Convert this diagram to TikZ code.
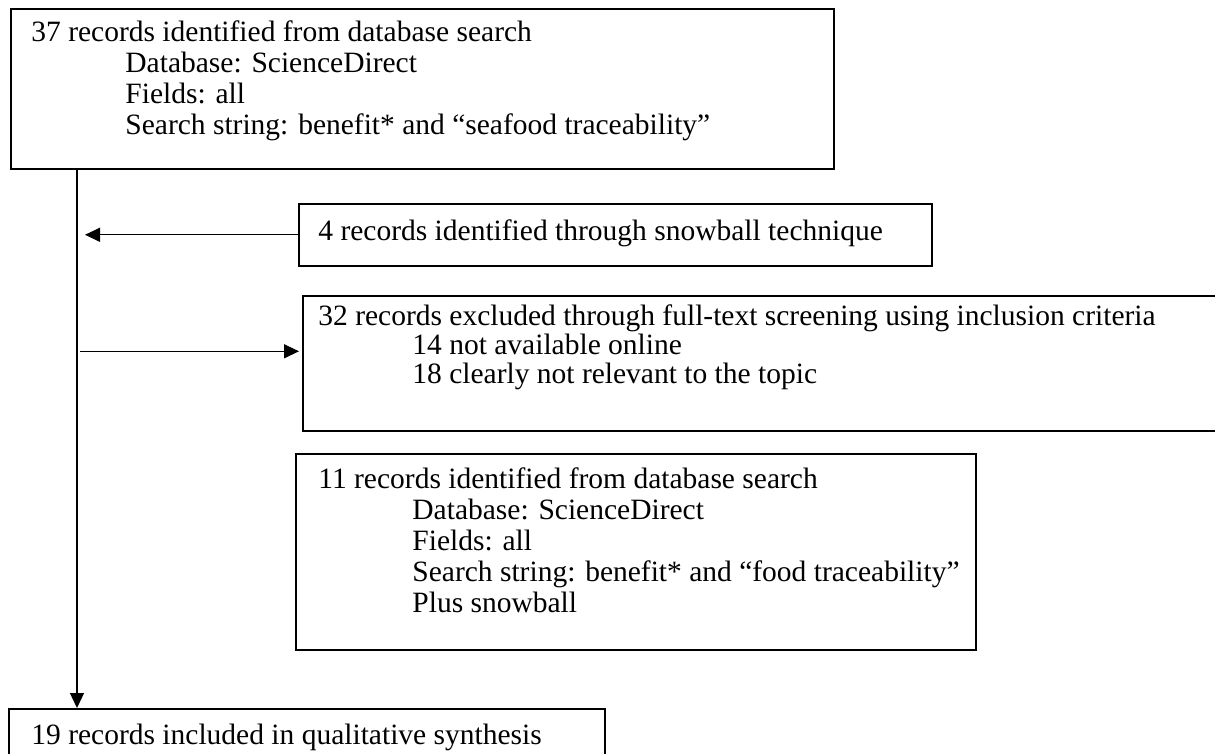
\documentclass[tikz,border=0pt]{standalone}
\usepackage{fontspec}
\setmainfont{Liberation Serif}
\usetikzlibrary{arrows.meta,positioning,calc}

\begin{document}
\begin{tikzpicture}[
  x=0.5pt,y=-0.5pt,
  font=\fontsize{14.75pt}{16pt}\selectfont,
  box/.style={rectangle,draw=black,line width=0.8pt,fill=white,
              anchor=north west,inner sep=0pt},
  txt/.style={anchor=base west,inner sep=0pt},
  arr/.style={-{Triangle[length=7.5pt,width=7pt]},line width=0.65pt}
]
\useasboundingbox (0,0) rectangle (1215,754);
\def\lh{15.5pt}  % line pitch inside the boxes
\def\ind{47pt}   % indent of the detail lines

% --- Search box
\node[box,minimum width=411.5pt,minimum height=80pt] (b1) at (10,8) {};
\node[txt] (b1a) at ([xshift=10.5pt,yshift=-17pt] b1.north west)
     {37 records identified from database search};
\node[txt] (b1b) at ([xshift=\ind,yshift=-\lh] b1a.base west)
     {Database: ScienceDirect};
\node[txt] (b1c) at ([yshift=-\lh] b1b.base west) {Fields: all};
\node[txt] at ([yshift=-\lh] b1c.base west)
     {Search string: benefit* and “seafood traceability”};

% --- Snowball box
\node[box,minimum width=316.5pt,minimum height=31pt] (b4) at (298,203) {};
\node[txt] at ([xshift=10pt,yshift=-19pt] b4.north west)
     {4 records identified through snowball technique};

% --- Excluded box
\node[box,minimum width=500pt,minimum height=67.5pt] (b32) at (302,295) {};
\node[txt] (b32a) at ([xshift=8pt,yshift=-15pt] b32.north west)
     {32 records excluded through full-text screening using inclusion criteria};
\node[txt] (b32b) at ([xshift=\ind,yshift=-14.5pt] b32a.base west)
     {14 not available online};
\node[txt] at ([yshift=-14.5pt] b32b.base west)
     {18 clearly not relevant to the topic};

% --- Second search box
\node[box,minimum width=340pt,minimum height=98pt] (b11) at (295,453) {};
\node[txt] (b11a) at ([xshift=11.5pt,yshift=-17.5pt] b11.north west)
     {11 records identified from database search};
\node[txt] (b11b) at ([xshift=\ind,yshift=-\lh] b11a.base west)
     {Database: ScienceDirect};
\node[txt] (b11c) at ([yshift=-\lh] b11b.base west) {Fields: all};
\node[txt] (b11d) at ([yshift=-\lh] b11c.base west)
     {Search string: benefit* and “food traceability”};
\node[txt] at ([yshift=-\lh] b11d.base west) {Plus snowball};

% --- Included box
\node[box,minimum width=298pt,minimum height=40pt] (b19) at (8,708) {};
\node[txt] at ([xshift=11.5pt,yshift=-18pt] b19.north west)
     {19 records included in qualitative synthesis};

% --- Connectors
\coordinate (trunk) at ([xshift=33.5pt] b1.south west);
\draw[arr] (trunk) -- (trunk |- b19.north);
\draw[arr] (b4.west) -- ($(b4.west -| trunk)+(8,0)$);
\draw[arr] ($(b32.west -| trunk)+(3,-12)$) -- ($(b32.west)+(-3,-12)$);
\end{tikzpicture}
\end{document}
